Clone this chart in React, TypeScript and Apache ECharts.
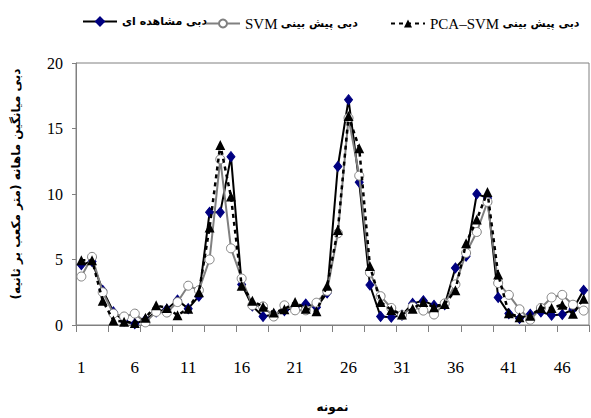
import React, { useEffect, useRef } from 'react';
import * as echarts from 'echarts';

const categories = [
  '1', '2', '3', '4', '5', '6', '7', '8', '9', '10', '11', '12', '13', '14', '15', '16',
  '17', '18', '19', '20', '21', '22', '23', '24', '25', '26', '27', '28', '29', '30', '31', '32',
  '33', '34', '35', '36', '37', '38', '39', '40', '41', '42', '43', '44', '45', '46', '47', '48',
];

const observed = [
  4.6, 4.85, 2.65, 1.0, 0.3, 0.1, 0.4, 1.0, 1.2, 1.9, 1.25, 2.2, 8.6, 8.6, 12.85, 3.1,
  1.45, 0.65, 0.8, 1.1, 1.35, 1.6, 1.35, 2.45, 12.1, 17.2, 10.9, 3.05, 0.65, 0.6, 0.75, 1.65,
  1.85, 1.5, 1.55, 4.35, 5.25, 10.0, 9.7, 2.1, 0.87, 0.5, 0.82, 1.0, 0.75, 0.8, 1.2, 2.65,
];

const svm = [
  3.7, 5.2, 2.5, 0.87, 0.65, 0.87, 0.2, 1.0, 0.95, 1.75, 3.0, 2.65, 5.0, 12.65, 5.85, 3.55,
  1.5, 1.42, 0.65, 1.5, 1.12, 1.12, 1.7, 2.6, 7.0, 15.8, 11.4, 4.0, 2.2, 1.3, 0.75, 1.4,
  1.1, 0.8, 1.65, 3.1, 5.5, 7.1, 9.4, 3.2, 2.3, 1.2, 0.4, 1.3, 2.1, 2.3, 1.55, 1.1,
];

const pcaSvm = [
  4.95, 4.95, 1.85, 0.35, 0.25, 0.15, 0.55, 1.5, 1.3, 0.75, 1.25, 2.5, 7.45, 13.75, 9.8, 3.0,
  1.85, 1.4, 0.95, 1.2, 1.75, 1.25, 1.05, 3.0, 7.25, 15.95, 13.5, 4.5, 1.75, 1.15, 0.8, 1.25,
  1.75, 1.35, 1.6, 2.65, 6.25, 8.05, 10.15, 3.85, 0.9, 0.6, 0.7, 1.3, 1.3, 1.55, 0.85, 2.0,
];

const yMin = 0;
const yMax = 20;
const yStep = 5;

const nameObserved = 'دبی مشاهده ای';
const nameSvm = 'دبی پیش بینی SVM';
const namePca = 'دبی پیش بینی PCA–SVM';

const serif = '"Liberation Serif", "DejaVu Serif", serif';
const persian = '"DejaVu Sans", "Noto Sans", sans-serif';

const legendText = {
  color: '#000',
  rich: {
    b: { fontFamily: persian, fontWeight: 'bold', fontSize: 11, color: '#000' },
    n: { fontFamily: serif, fontSize: 15, color: '#000' },
  },
};

const legendFormatter = (name: string) => {
  if (name === nameObserved) return '{b|دبی مشاهده ای}';
  if (name === nameSvm) return '{n|SVM} {b|دبی پیش بینی}';
  return '{n|PCA–SVM} {b|دبی پیش بینی}';
};

function makeLegend(name: string, left: number) {
  return {
    top: 11,
    left,
    itemWidth: 34,
    itemHeight: 10,
    data: [name],
    formatter: legendFormatter,
    textStyle: legendText,
  };
}

export default function App() {
  const ref = useRef<HTMLDivElement>(null);

  useEffect(() => {
    if (!ref.current) return;
    const chart = echarts.init(ref.current, null, { renderer: 'svg' });
    chart.setOption({
      animation: false,
      backgroundColor: '#ffffff',
      legend: [
        makeLegend(nameObserved, 77),
        makeLegend(nameSvm, 200),
        makeLegend(namePca, 385),
      ],
      grid: {
        left: 76,
        right: 2,
        top: 63,
        bottom: 86,
        show: true,
        borderColor: '#808080',
        borderWidth: 1,
      },
      xAxis: {
        type: 'category',
        data: categories,
        boundaryGap: true,
        name: 'نمونه',
        nameLocation: 'middle',
        nameGap: 76,
        nameTextStyle: { fontFamily: persian, fontWeight: 'bold', fontSize: 12, color: '#000' },
        axisLine: { lineStyle: { color: '#808080', width: 1 } },
        axisTick: { show: true, interval: 2, length: 7, lineStyle: { color: '#808080' } },
        axisLabel: {
          interval: 4,
          margin: 34,
          fontFamily: serif,
          fontSize: 17,
          color: '#000',
        },
        splitLine: { show: false },
      },
      yAxis: {
        type: 'value',
        min: yMin,
        max: yMax,
        interval: yStep,
        name: 'دبی میانگین ماهانه (متر مکعب بر ثانیه)',
        nameLocation: 'middle',
        nameGap: 54,
        nameTextStyle: {
          fontFamily: persian,
          fontWeight: 'bold',
          fontSize: 12,
          color: '#000',
          padding: [0, 0, 0, 20],
        },
        axisLine: { show: true, lineStyle: { color: '#808080', width: 1 } },
        axisTick: { show: true, length: 4, lineStyle: { color: '#808080' } },
        axisLabel: { margin: 13, fontFamily: serif, fontSize: 16, color: '#000' },
        splitLine: { show: false },
      },
      series: [
        {
          name: nameObserved,
          type: 'line',
          data: observed,
          symbol: 'diamond',
          symbolSize: [8, 10],
          showAllSymbol: true,
          lineStyle: { color: '#000', width: 2 },
          itemStyle: { color: '#000080', borderColor: '#000080', borderWidth: 1 },
          z: 2,
        },
        {
          name: nameSvm,
          type: 'line',
          data: svm,
          symbol: 'circle',
          symbolSize: 9,
          showAllSymbol: true,
          lineStyle: { color: '#808080', width: 2 },
          itemStyle: { color: '#ffffff', borderColor: '#808080', borderWidth: 1 },
          z: 3,
        },
        {
          name: namePca,
          type: 'line',
          data: pcaSvm,
          symbol: 'triangle',
          symbolSize: 10,
          showAllSymbol: true,
          lineStyle: { color: '#000', width: 2.5, type: [4, 4] },
          itemStyle: { color: '#000' },
          z: 4,
        },
      ],
    });
    return () => chart.dispose();
  }, []);

  return (
    <div
      ref={ref}
      style={{ position: 'absolute', left: 0, top: 0, width: 591, height: 418 }}
    />
  );
}
